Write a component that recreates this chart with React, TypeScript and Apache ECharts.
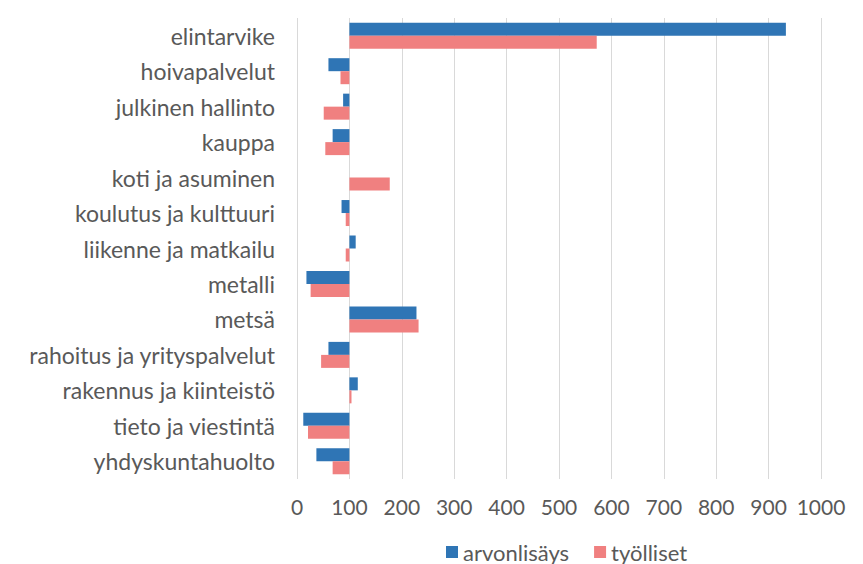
import React, { useEffect, useRef } from "react";
import * as echarts from "echarts";

const categories = [
  "elintarvike",
  "hoivapalvelut",
  "julkinen hallinto",
  "kauppa",
  "koti ja asuminen",
  "koulutus ja kulttuuri",
  "liikenne ja matkailu",
  "metalli",
  "metsä",
  "rahoitus ja yrityspalvelut",
  "rakennus ja kiinteistö",
  "tieto ja viestintä",
  "yhdyskuntahuolto",
];

const arvonlisays = [933, 60, 88, 68, 100, 85, 112, 18, 228, 60, 116, 12, 37];
const tyolliset = [572, 83, 51, 54, 177, 93, 93, 26, 232, 46, 104, 21, 68];

const seriesNames = ["arvonlisäys", "työlliset"];
const baseline = 100;
const tickMin = 0;
const tickMax = 1000;
const tickStep = 100;

const FONT = "Lato";

export default function App() {
  const ref = useRef<HTMLDivElement>(null);
  useEffect(() => {
    if (!ref.current) return;
    const chart = echarts.init(ref.current, undefined, { renderer: "svg" });
    chart.setOption({
      animation: false,
      backgroundColor: "#ffffff",
      textStyle: { fontFamily: FONT },
      grid: { left: 297, right: 42, top: 18, bottom: 85, containLabel: false },
      legend: {
        data: seriesNames,
        left: 441,
        top: 536,
        icon: "rect",
        itemWidth: 12,
        itemHeight: 12,
        itemGap: 25,
        textStyle: { color: "#595959", fontSize: 22, fontFamily: FONT },
      },
      xAxis: {
        type: "value",
        min: tickMin - baseline,
        max: tickMax - baseline,
        interval: tickStep,
        axisLine: { show: false },
        axisTick: { show: false },
        splitLine: { show: true, lineStyle: { color: "#d9d9d9", width: 1 } },
        axisLabel: {
          color: "#595959",
          fontSize: 21,
          fontFamily: FONT,
          margin: 17,
          formatter: (v: number) => String(v + baseline),
        },
      },
      yAxis: {
        type: "category",
        data: categories,
        inverse: true,
        axisLine: { show: false },
        axisTick: { show: false },
        splitLine: { show: false },
        axisLabel: {
          color: "#595959",
          fontSize: 23,
          fontFamily: FONT,
          margin: 22,
        },
      },
      series: [
        {
          name: seriesNames[0],
          type: "bar",
          data: arvonlisays.map((v) => v - baseline),
          itemStyle: { color: "#2F75B5" },
          barWidth: 13,
          barGap: "0%",
        },
        {
          name: seriesNames[1],
          type: "bar",
          data: tyolliset.map((v) => v - baseline),
          itemStyle: { color: "#F08080" },
          barWidth: 13,
          barGap: "0%",
        },
      ],
    });
    return () => chart.dispose();
  }, []);
  return (
    <div
      ref={ref}
      style={{ position: "absolute", left: 0, top: 0, width: 863, height: 564 }}
    />
  );
}
